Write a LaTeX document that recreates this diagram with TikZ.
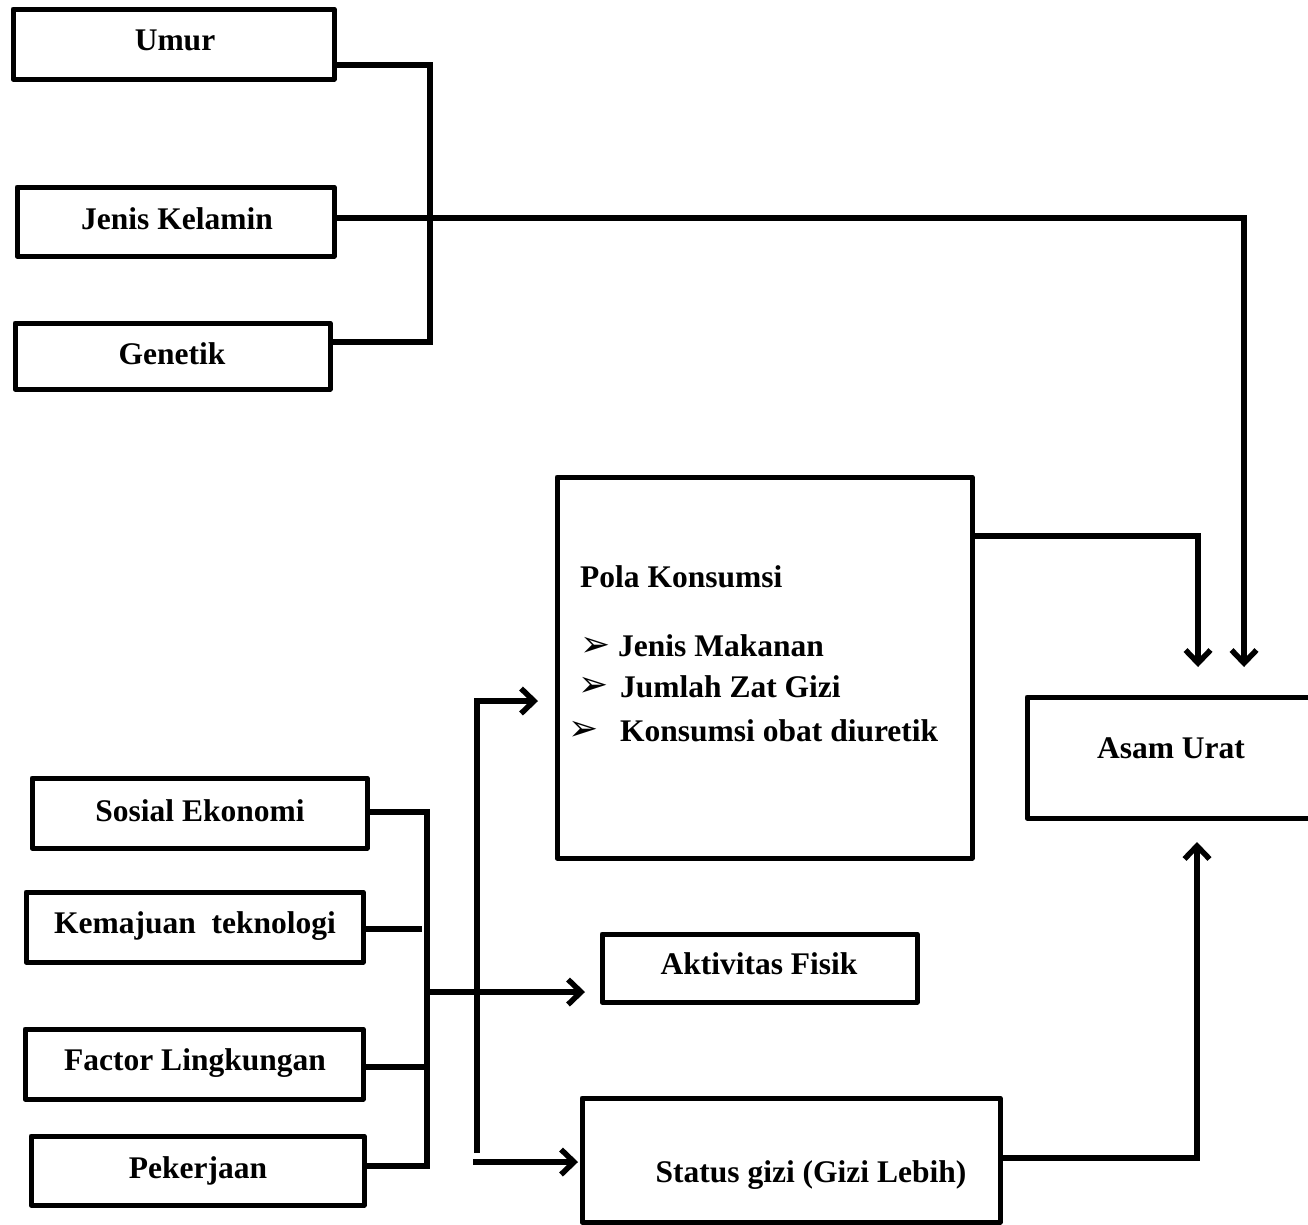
\documentclass[tikz,border=0pt]{standalone}
\usepackage{fontspec}
\setmainfont{Liberation Serif}
\newfontfamily\dejavu{DejaVu Sans}
\usetikzlibrary{arrows.meta}
\begin{document}
\begin{tikzpicture}[x=1pt,y=-1pt,
  box/.style={draw, line width=5pt, inner sep=0pt, line join=round, rectangle},
  txt/.style={font=\bfseries\fontsize{31.5}{36}\selectfont, inner sep=0pt, text height=21pt, text depth=0pt},
  bul/.style={font=\dejavu\fontsize{36}{40}\selectfont, inner sep=0pt},
  conn/.style={line width=5.5pt},
  arr/.style={conn, -{Straight Barb[length=13pt,width=25pt]}}]
\clip (0,0) rectangle (1308,1224);
\useasboundingbox (0,0) rectangle (1308,1224);

% boxes
\node[box, minimum width=321pt, minimum height=70pt] (umur) at (173.5,44) {};
\node[box, minimum width=317pt, minimum height=69pt] (jk) at (175.5,221.5) {};
\node[box, minimum width=315pt, minimum height=66pt] (gen) at (172.5,356) {};
\node[box, minimum width=415pt, minimum height=381pt] (pola) at (764.5,667.5) {};
\node[box, minimum width=293pt, minimum height=121pt] (asam) at (1173.5,757.5) {};
\node[box, minimum width=315pt, minimum height=68pt] (akt) at (759.5,968) {};
\node[box, minimum width=418pt, minimum height=124pt] (stat) at (791,1160) {};
\node[box, minimum width=335pt, minimum height=70pt] (sos) at (199.5,813) {};
\node[box, minimum width=337pt, minimum height=70pt] (kem) at (194.5,927) {};
\node[box, minimum width=338pt, minimum height=70pt] (fac) at (194,1064) {};
\node[box, minimum width=333pt, minimum height=69pt] (pek) at (197.5,1170.5) {};

% texts
\node[txt] (tumur) at (175,40) {Umur};
\node[txt] (tjk) at (177,219) {Jenis Kelamin};
\node[txt] (tgen) at (172,354) {Genetik};
\node[txt] (tsos) at (200,811) {Sosial Ekonomi};
\node[txt] (tkem) at (195,923) {Kemajuan\ \ teknologi};
\node[txt] (tfac) at (195,1060) {Factor Lingkungan};
\node[txt] (tpek) at (198,1168) {Pekerjaan};
\node[txt] (takt) at (759,964) {Aktivitas Fisik};
\node[txt] (tasam) at (1171,748) {Asam Urat};
\node[txt] (tstat) at (811,1172) {Status gizi (Gizi Lebih)};
\node[txt, anchor=west] (tpola) at (580,577) {Pola Konsumsi};
\node[bul] (b1) at (596,647) {➢};
\node[bul] (b2) at (594,687) {➢};
\node[bul] (b3) at (584,731) {➢};
\node[txt, anchor=west] (l1) at (618,646) {Jenis Makanan};
\node[txt, anchor=west] (l2) at (620,687) {Jumlah Zat Gizi};
\node[txt, anchor=west] (l3) at (620,731) {Konsumsi obat diuretik};

% coordinates
\coordinate (a1) at (430,65);
\coordinate (a2) at (430,342);
\coordinate (bj1) at (1244,218);
\coordinate (bj2) at (1244,667);
\coordinate (c1) at (1198,536);
\coordinate (c2) at (1198,667);
\coordinate (d1) at (1197,1158);
\coordinate (d2) at (1197,842);
\coordinate (e1) at (427,812);
\coordinate (e2) at (427,1166);
\coordinate (e3) at (422,929);
\coordinate (e4) at (427,1067);
\coordinate (f1) at (427,992);
\coordinate (f2) at (585,992);
\coordinate (g1) at (477,701);
\coordinate (g2) at (477,1153);
\coordinate (h1) at (538,701);
\coordinate (k1) at (473,1162);
\coordinate (k2) at (578,1162);

% connectors
\draw[conn] (umur.east |- a1) -- (a1) -- (a2) -- (gen.east |- a2);
\draw[arr] (jk.east |- bj1) -- (bj1) -- (bj2);
\draw[arr] (pola.east |- c1) -- (c1) -- (c2);
\draw[arr] (stat.east |- d1) -- (d1) -- (d2);
\draw[conn] (sos.east |- e1) -- (e1) -- (e2) -- (pek.east |- e2);
\draw[conn] (kem.east |- e3) -- (e3);
\draw[conn] (fac.east |- e4) -- (e4);
\draw[arr] (f1) -- (f2);
\draw[arr] (g2) -- (g1) -- (h1);
\draw[arr] (k1) -- (k2);
\end{tikzpicture}
\end{document}
